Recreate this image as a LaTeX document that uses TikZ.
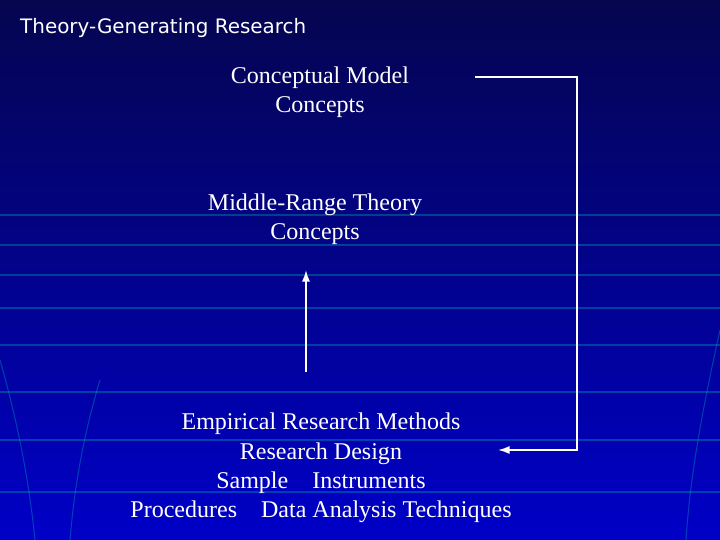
\documentclass[tikz,border=0pt]{standalone}
\usepackage{fontspec}
\usetikzlibrary{arrows.meta}
\setmainfont{Liberation Serif}
\newfontfamily\titlefont{DejaVu Sans}
\begin{document}
\begin{tikzpicture}[x=0.03cm,y=-0.03cm,
  txt/.style={text=white,font=\fontsize{20.5}{25}\selectfont,align=center,inner sep=0},
  grid/.style={draw=teal!60!cyan,opacity=0.35,line width=0.9pt},
  conn/.style={draw=white,line width=1.6pt,-{Latex[length=10pt,width=7pt]}}]
\shade[top color={rgb,255:red,5;green,5;blue,80},bottom color={rgb,255:red,0;green,0;blue,200}] (0,0) rectangle (720,540);
\useasboundingbox (0,0) rectangle (720,540);
\foreach \y in {215,245,275,308,345,392,440,492} \draw[grid] (0,\y) -- (720,\y);
\draw[grid] (0,360) .. controls (20,430) and (30,490) .. (35,540);
\draw[grid] (720,330) .. controls (700,420) and (690,480) .. (686,540);
\draw[grid] (70,540) .. controls (75,480) and (85,430) .. (100,380);
\node[text=white,font=\titlefont\fontsize{17}{19}\selectfont,anchor=west,inner sep=0] (title) at (20,28) {Theory-Generating Research};
\node[txt] (cm) at (320,92) {Conceptual Model\\Concepts};
\node[txt] (mr) at (315,219) {Middle-Range Theory\\Concepts};
\node[txt] (em) at (321,468) {Empirical Research Methods\\Research Design\\Sample\quad Instruments\\Procedures\quad Data Analysis Techniques};
\coordinate (a1) at (475,77);
\coordinate (a2) at (577,77);
\coordinate (a3) at (577,450);
\coordinate (a4) at (498,450);
\draw[conn] (a1) -- (a2) -- (a3) -- (a4);
\coordinate (b1) at (306,372);
\coordinate (b2) at (306,270);
\draw[conn] (b1) -- (b2);
\end{tikzpicture}
\end{document}
